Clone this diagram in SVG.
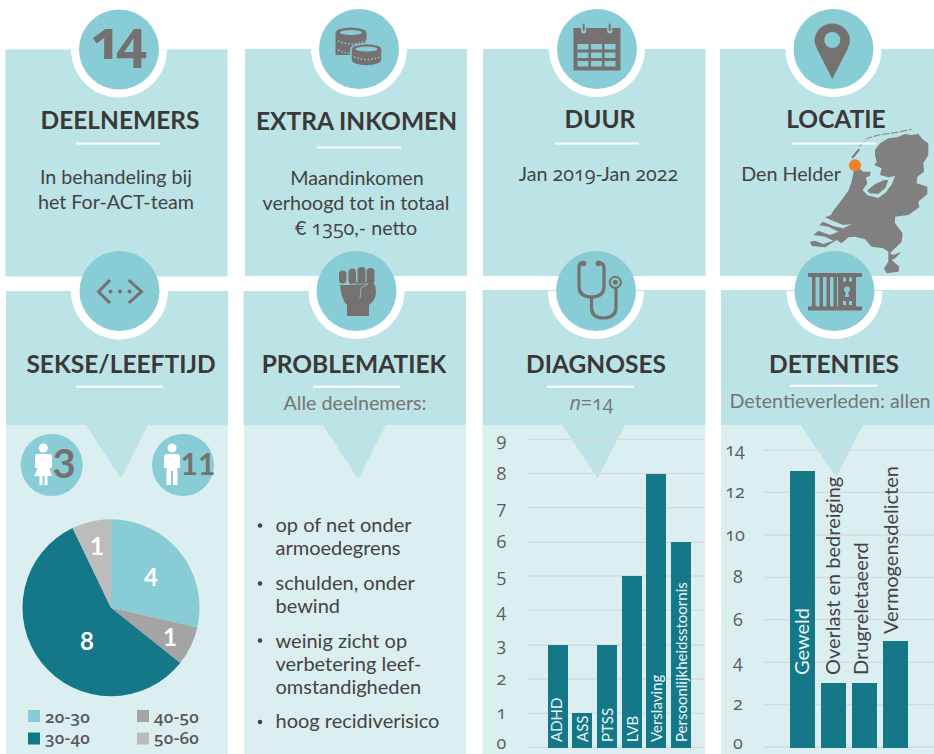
<svg xmlns="http://www.w3.org/2000/svg" width="934" height="754" viewBox="0 0 934 754">
<style>
text{font-family:"Lato","Open Sans","Liberation Sans",sans-serif}
.os{font-family:"Open Sans","Lato",sans-serif;font-variant-numeric:oldstyle-nums;font-feature-settings:"onum"}
.p{fill:#BCE3E5}.l{fill:#DBEEF0}.c{fill:#88CDD5}.g{fill:#757171}.w{fill:#fff}
.t{font-size:24.5px;font-weight:700;fill:#3B3838;text-anchor:middle}
.b{font-size:19.700px;fill:#444344;text-anchor:middle}
.s{font-size:19.700px;fill:#757575;text-anchor:middle}
.li{font-size:20px;fill:#444344}
.lg{font-size:17px;font-weight:600;fill:#58585A;letter-spacing:.3px}
.ax{font-size:18px;fill:#5e5e5e;text-anchor:middle}
.gr{stroke:#DAD9D9;stroke-width:1.3;fill:none}
.bar{fill:#157889}
.u{fill:#fff}
.vw{font-size:15px;fill:#E8F4F5}
.vd{font-size:20px;fill:#444344}
.pl{font-size:24px;font-weight:700;fill:#fff;text-anchor:middle}
</style>
<g id="panels">
<rect class="p" x="5.5" y="49.5" width="222" height="227"/>
<rect class="p" x="245" y="49" width="222" height="227"/>
<rect class="p" x="483" y="49" width="222.500" height="227"/>
<rect class="p" x="720" y="49" width="214" height="227"/>
<rect class="l" x="6" y="425" width="222" height="329"/>
<rect class="l" x="244" y="425" width="222" height="329"/>
<rect class="l" x="482.500" y="425" width="222.500" height="329"/>
<rect class="l" x="721" y="425" width="213" height="329"/>
<rect class="p" x="6" y="291" width="222" height="134"/>
<rect class="p" x="243.500" y="291" width="222.500" height="134"/>
<rect class="p" x="482.500" y="290" width="223" height="135"/>
<rect class="p" x="721" y="290" width="213" height="135"/>
<path class="p" d="M86 425H148L121 478.500Z"/>
<path class="p" d="M323 425H386L358 479Z"/>
<path class="p" d="M562 425H625L597.500 478Z"/>
<path class="p" d="M800.500 425H863L836 477Z"/>
</g>
<g id="connectors"/>
<g id="map" transform="translate(780 120) scale(.33333)">
<path fill="#808080" d="M226 120 240 148 250 155 272 155 270 168 258 172 262 190 248 210 262 226 295 234 318 217 336 192 345 168 325 172 300 165 305 145 283 135 290 125 285 105 285 90 300 70 325 55 352 52 375 42 395 45 415 42 430 60 445 70 445 105 430 130 432 155 412 170 410 190 442 200 442 222 415 245 418 262 385 285 345 290 345 310 368 340 365 365 345 385 330 400 340 405 365 395 345 415 335 420 358 440 355 455 320 460 312 445 325 425 325 395 310 385 275 380 255 358 225 350 205 352 185 370 170 360 135 382 95 378 90 365 105 362 130 372 160 362 135 350 100 345 115 332 150 345 175 335 145 320 118 316 128 305 160 318 190 325 215 312 190 315 165 305 135 292 153 285 160 272 185 240 205 212 215 185 222 150Z"/>
<path fill="#808080" stroke="#BCE3E5" stroke-width="4" d="M258 212 285 190 312 178 328 178 318 205 295 224 270 222Z"/>
<path d="M218 112 236 90" stroke="#808080" stroke-width="7" stroke-linecap="round" fill="none"/>
<path d="M238 80 262 55 300 44 345 38 395 28" stroke="#808080" stroke-width="3" stroke-dasharray="22 5" fill="none"/>
</g>
<g id="deelnemers">
<path class="w" d="M71 49.500a48 48 0 0 0 96 0Z"/>
<circle class="c" cx="119" cy="49.500" r="40"/>
<text class="os" x="116" y="59" font-size="54" font-weight="700" fill="#757171" text-anchor="middle" letter-spacing="-6">14</text>
<text class="t" x="120" y="129">DEELNEMERS</text>
<rect class="u" x="76" y="142.500" width="84" height="2"/>
<text class="b" x="116" y="184">In behandeling bij</text>
<text class="b" x="116" y="209">het For-ACT-team</text>
</g>
<g id="inkomen">
<path class="w" d="M311 49a48 48 0 0 0 96 0Z"/>
<circle class="c" cx="359" cy="49" r="40"/>
<g fill="#757171">
<path d="M335.500 33a15.500 5.500 0 0 1 31 0V40h-1V55H335.500Z"/>
<path d="M351 49a15.500 5.500 0 0 1 31 0V60a15.500 6 0 0 1-31 0Z" stroke="#88CDD5" stroke-width="1.500"/>
<ellipse cx="351" cy="32.500" rx="11" ry="2.500" fill="#88CDD5"/>
<ellipse cx="366.500" cy="49" rx="11" ry="2.500" fill="#88CDD5"/>
<path d="M338 41q13 6 26 0M338 50q6 3 12 3M354 57q12 5 26 0" stroke="#88CDD5" stroke-width="1.500" stroke-dasharray="1.500 2" fill="none"/>
</g>
<text class="t" x="356.500" y="130">EXTRA INKOMEN</text>
<rect class="u" x="317" y="146.500" width="84" height="2"/>
<text class="b" x="357" y="185">Maandinkomen</text>
<text class="b" x="356" y="210">verhoogd tot in totaal</text>
<text class="b" x="356" y="235">€ <tspan class="os">1350</tspan>,- netto</text>
</g>
<g id="duur">
<path class="w" d="M549 49a48 48 0 0 0 96 0Z"/>
<circle class="c" cx="597" cy="49" r="40"/>
<path class="g" d="M573.500 28H620.500V70.500H573.500Z"/>
<g class="c">
<rect x="577.500" y="44" width="11" height="5.500"/><rect x="591" y="44" width="11" height="5.500"/><rect x="604.500" y="44" width="11" height="5.500"/>
<rect x="577.500" y="52.500" width="11" height="5.500"/><rect x="591" y="52.500" width="11" height="5.500"/><rect x="604.500" y="52.500" width="11" height="5.500"/>
<rect x="577.500" y="61" width="11" height="5.500"/><rect x="591" y="61" width="11" height="5.500"/><rect x="604.500" y="61" width="11" height="5.500"/>
</g>
<path d="M583.700 24V31M609.700 24V31" stroke="#88CDD5" stroke-width="5" stroke-linecap="round"/>
<path d="M583.700 24.500V30M609.700 24.500V30" stroke="#757171" stroke-width="2" stroke-linecap="round"/>
<text class="t" x="600" y="127.500">DUUR</text>
<rect class="u" x="555" y="142.500" width="84" height="2"/>
<text class="b" x="598.500" y="181">Jan <tspan class="os">2019</tspan>-Jan <tspan class="os">2022</tspan></text>
</g>
<g id="locatie">
<path class="w" d="M785.500 49a48 48 0 0 0 96 0Z"/>
<circle class="c" cx="833.500" cy="49" r="40"/>
<path class="g" d="M832.300 79 817 49Q814.500 44 814.500 40A17.800 17.800 0 0 1 850 40Q850 44 847.600 49Z"/>
<circle class="c" cx="832.300" cy="40" r="8"/>
<text class="t" x="836" y="127.500">LOCATIE</text>
<rect class="u" x="792" y="142.500" width="84" height="2"/>
<text class="b" x="791" y="181">Den Helder</text>
<circle cx="855" cy="165.300" r="6" fill="#F07F2E"/>
</g>
<g id="sekse">
<path class="w" d="M71 291a48 48 0 0 0 97 0Z"/>
<circle class="c" cx="119.500" cy="291" r="40"/>
<path d="M110 280 98.500 291.700 110 303M128.700 280 141.500 291.700 128.700 303" stroke="#757171" stroke-width="3" fill="none"/>
<circle class="g" cx="110.500" cy="291.500" r="2"/><circle class="g" cx="120" cy="291.500" r="2"/><circle class="g" cx="129.500" cy="291.500" r="2"/>
<text class="t" x="121" y="372.500">SEKSE/LEEFTIJD</text>
<rect class="u" x="76" y="385.700" width="87" height="2"/>
<circle class="c" cx="51.700" cy="465" r="31"/>
<circle class="c" cx="183" cy="465" r="31"/>
<circle class="w" cx="43.300" cy="448" r="4.500"/>
<path class="w" d="M37 454H50Q52 454 52 457V468H49.500L52 476H47.500V485H44.500V476H42.500V485H39.500V476H34.500L37.500 468H35V457Q35 454 37 454Z"/>
<circle class="w" cx="172" cy="448" r="4.500"/>
<path class="w" d="M167 454H177Q180 454 180 457V468H177.500V485H173V471H171V485H166.500V468H164V457Q164 454 167 454Z"/>
<text x="64" y="478" font-size="40" font-weight="700" fill="#757171" text-anchor="middle">3</text>
<text x="198" y="475" font-size="30" font-weight="700" fill="#757171" text-anchor="middle">11</text>
<path fill="#88CDD5" d="M111 607.700V519.200A88.500 88.500 0 0 1 197.300 627.400Z"/>
<path fill="#A5A4A5" d="M111 607.700 197.300 627.400A88.500 88.500 0 0 1 180.200 662.900Z"/>
<path fill="#157889" d="M111 607.700 180.200 662.900A88.500 88.500 0 1 1 72.600 528Z"/>
<path fill="#BDBCBD" d="M111 607.700 72.600 528A88.500 88.500 0 0 1 111 519.200Z"/>
<text class="pl" x="151" y="586">4</text>
<text class="pl" x="170" y="646">1</text>
<text class="pl" x="87" y="650">8</text>
<text class="pl" x="97" y="555">1</text>
<rect x="28" y="710" width="12" height="12" fill="#88CDD5"/>
<rect x="137" y="710" width="12" height="12" fill="#A5A4A5"/>
<rect x="28" y="732.500" width="12" height="12" fill="#157889"/>
<rect x="137" y="732.500" width="12" height="12" fill="#BDBCBD"/>
<text class="lg os" x="45" y="722.500">20-30</text>
<text class="lg os" x="154" y="722.500">40-50</text>
<text class="lg os" x="45" y="744">30-40</text>
<text class="lg os" x="154" y="744">50-60</text>
</g>
<g id="problematiek">
<path class="w" d="M308.500 291a48 48 0 0 0 96 0Z"/>
<circle class="c" cx="356.500" cy="291" r="40"/>
<g fill="#757171">
<rect x="339" y="270.500" width="7.500" height="13" rx="3.700"/>
<rect x="348.500" y="268.500" width="7.500" height="16" rx="3.700"/>
<rect x="357.500" y="267" width="8" height="17" rx="3.700"/>
<rect x="366.500" y="268" width="8" height="16" rx="3.700"/>
<path d="M340 285H356L352 282H372Q376 284 376 292 376 300 369 305V316H347V305Q341 299 340 285Z"/>
<path d="M352 284H368L361 288 360 298" stroke="#88CDD5" stroke-width=".800" fill="none"/>
</g>
<text class="t" x="354" y="372.500">PROBLEMATIEK</text>
<rect class="u" x="313" y="385.700" width="87" height="2"/>
<text class="s" x="355" y="410">Alle deelnemers:</text>
<g>
<circle cx="260" cy="525.500" r="2.300" fill="#444344"/>
<circle cx="260" cy="583.500" r="2.300" fill="#444344"/>
<circle cx="260" cy="640.500" r="2.300" fill="#444344"/>
<circle cx="260" cy="722" r="2.300" fill="#444344"/>
<text class="li" x="275.500" y="531.700">op of net onder</text>
<text class="li" x="275.500" y="554.500">armoedegrens</text>
<text class="li" x="275.500" y="589.500">schulden, onder</text>
<text class="li" x="275.500" y="612.500">bewind</text>
<text class="li" x="275.500" y="648">weinig zicht op</text>
<text class="li" x="275.500" y="671">verbetering leef-</text>
<text class="li" x="275.500" y="694">omstandigheden</text>
<text class="li" x="275.500" y="728">hoog recidiverisico</text>
</g>
</g>
<g id="diagnoses">
<path class="w" d="M548 291a48 48 0 0 0 96 0Z"/>
<circle class="c" cx="596" cy="291" r="40"/>
<path d="M583 263H581Q579 264 579 268V286Q579 297 591.500 297 604 297 604 286V268Q604 264 601 263H599M591.500 297V307Q591.500 318 603 318 616 318 616 307V288" stroke="#757171" stroke-width="3.200" fill="none"/>
<circle class="g" cx="583.500" cy="263.500" r="2.800"/><circle class="g" cx="598.500" cy="263.500" r="2.800"/>
<circle cx="615.300" cy="282.300" r="5.500" fill="none" stroke="#757171" stroke-width="2"/>
<circle class="g" cx="615.300" cy="282.300" r="2.500"/>
<text class="t" x="596" y="372.500">DIAGNOSES</text>
<rect class="u" x="547" y="385.700" width="87" height="2"/>
<text class="s os" x="591.500" y="410"><tspan font-style="italic">n</tspan>=14</text>
<path class="gr" d="M526.700 439.300H704M526.700 473.300H704M526.700 507.700H704M526.700 542.300H704M526.700 576H704M526.700 610.300H704M526.700 645H704M526.700 679H704M526.700 713.300H704M526.700 747.300H704"/>
<g>
<text class="ax os" x="501.500" y="446">9</text><text class="ax os" x="501.500" y="480">8</text><text class="ax os" x="501.500" y="514">7</text><text class="ax os" x="501.500" y="548">6</text><text class="ax os" x="501.500" y="582">5</text><text class="ax os" x="501.500" y="617">4</text><text class="ax os" x="501.500" y="651">3</text><text class="ax os" x="501.500" y="685">2</text><text class="ax os" x="501.500" y="719">1</text><text class="ax os" x="501.500" y="749">0</text>
</g>
<rect class="bar" x="548" y="645" width="20" height="103"/>
<rect class="bar" x="572" y="713" width="20" height="35"/>
<rect class="bar" x="597" y="645" width="20" height="103"/>
<rect class="bar" x="622" y="576" width="20" height="172"/>
<rect class="bar" x="646" y="474" width="20" height="274"/>
<rect class="bar" x="671" y="542" width="20" height="206"/>
<text class="vw" transform="translate(562 742) rotate(-90)">ADHD</text>
<text class="vw" transform="translate(587.500 742) rotate(-90)">ASS</text>
<text class="vw" transform="translate(613 742) rotate(-90)">PTSS</text>
<text class="vw" transform="translate(637.500 742) rotate(-90)">LVB</text>
<text class="vw" transform="translate(662 742) rotate(-90)">Verslaving</text>
<text class="vw" transform="translate(686.500 742) rotate(-90)">Persoonlijkheidsstoornis</text>
</g>
<g id="detenties">
<path class="w" d="M786.500 291a48 48 0 0 0 96 0Z"/>
<circle class="c" cx="834.500" cy="291" r="40"/>
<g fill="#757171">
<rect x="808" y="273" width="54" height="4"/><rect x="808" y="306.500" width="54" height="4"/>
<rect x="812" y="275" width="3.500" height="33"/><rect x="819.500" y="275" width="3.500" height="33"/><rect x="826.500" y="275" width="3.500" height="33"/><rect x="833.500" y="275" width="3.500" height="33"/>
<rect x="838" y="275" width="18" height="33"/>
</g>
<g class="c">
<rect x="843" y="277.500" width="3" height="4"/><rect x="849" y="277.500" width="3" height="4"/><rect x="843" y="301" width="3" height="4"/><rect x="849" y="301" width="3" height="4"/>
<circle cx="847" cy="289.500" r="3"/><path d="M846 290H848L849 297H845Z"/>
</g>
<text class="t" x="834" y="372.500">DETENTIES</text>
<rect class="u" x="790" y="384.700" width="87" height="2"/>
<text class="s" x="830" y="408">Detentieverleden: allen</text>
<path class="gr" d="M764 450.300H934M764 492.300H934M764 535H934M764 577.300H934M764 619.700H934M764 662.300H934M764 704.700H934M764 747H934"/>
<text class="ax os" x="735" y="456">14</text>
<text class="ax os" x="735" y="498">12</text>
<text class="ax os" x="735" y="541">10</text>
<text class="ax os" x="738" y="583">8</text>
<text class="ax os" x="738" y="626">6</text>
<text class="ax os" x="738" y="668">4</text>
<text class="ax os" x="738" y="710">2</text>
<text class="ax os" x="738" y="749">0</text>
<rect class="bar" x="790" y="471" width="25" height="277"/>
<rect class="bar" x="821" y="683" width="25" height="65"/>
<rect class="bar" x="852" y="683" width="25" height="65"/>
<rect class="bar" x="883" y="641" width="25" height="107"/>
<text class="vd" style="fill:#E8F4F5" transform="translate(808.500 675) rotate(-90)">Geweld</text>
<text class="vd" transform="translate(840 675) rotate(-90)">Overlast en bedreiging</text>
<text class="vd" transform="translate(868 675) rotate(-90)">Drugreletaeerd</text>
<text class="vd" transform="translate(898 634) rotate(-90)">Vermogensdelicten</text>
</g>
</svg>
